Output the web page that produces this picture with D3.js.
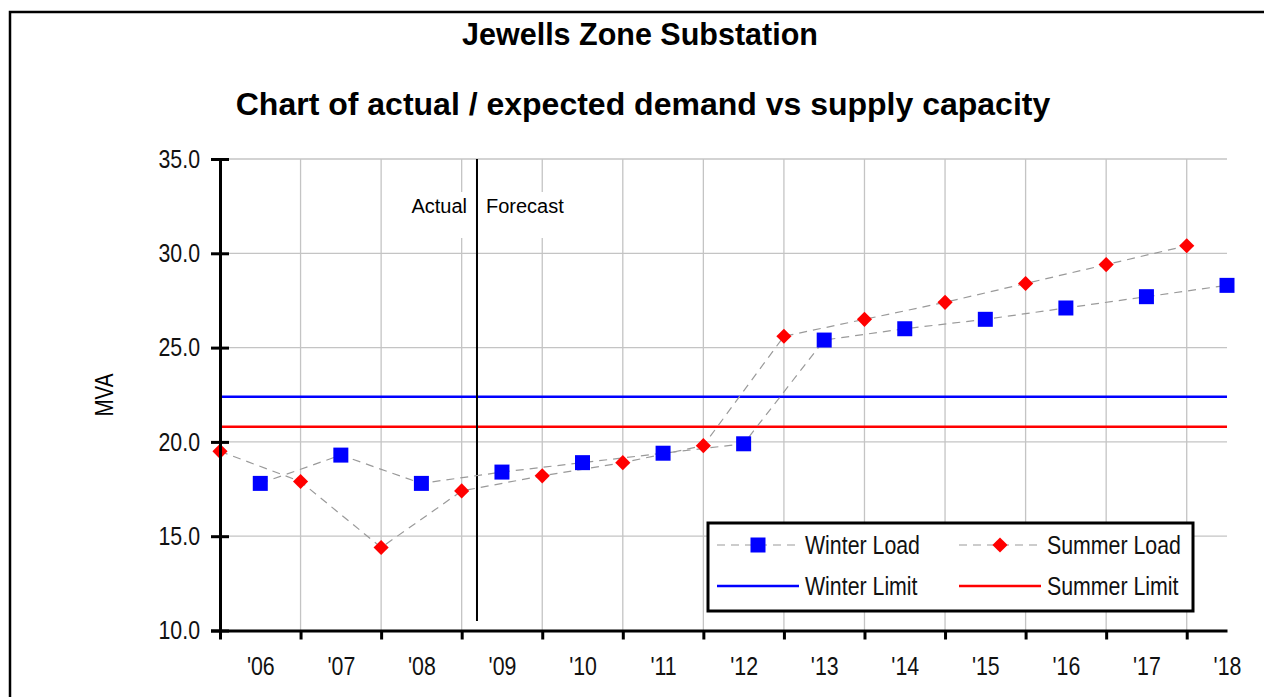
<!DOCTYPE html>
<html>
<head>
<meta charset="utf-8">
<script src="https://cdn.jsdelivr.net/npm/d3@7"></script>
<style>
  body { margin: 0; background: #fff; }
  svg { display: block; }
</style>
</head>
<body>
<div id="chart_area"></div>
<script>
// data
var years = [2006, 2007, 2008, 2009, 2010, 2011, 2012, 2013, 2014, 2015, 2016, 2017, 2018];
var yearLabels = ["'06", "'07", "'08", "'09", "'10", "'11", "'12", "'13", "'14", "'15", "'16", "'17", "'18"];
var winterLoad = [17.8, 19.3, 17.8, 18.4, 18.9, 19.4, 19.9, 25.4, 26.0, 26.5, 27.1, 27.7, 28.3];
var summerLoad = [19.5, 17.9, 14.4, 17.4, 18.2, 18.9, 19.8, 25.6, 26.5, 27.4, 28.4, 29.4, 30.4];
var winterLimit = 22.4;
var summerLimit = 20.8;
var yTicks = [10, 15, 20, 25, 30, 35];
var forecastStart = 2008.69;

var arial = '"Liberation Sans", Arial, sans-serif';

var W = 1264, H = 697;
var plotLeft = 220, plotRight = 1227, plotTop = 159, plotBottom = 630.5;

// squeeze regular text to look like a narrow face
function narrow(sel) {
    sel.style("font-family", arial).each(function () {
        var len = this.getComputedTextLength();
        d3.select(this)
            .attr("textLength", len * 0.82)
            .attr("lengthAdjust", "spacingAndGlyphs");
    });
}

var svg = d3.select("#chart_area")
    .append("svg")
    .attr("width", W)
    .attr("height", H);

// outer frame (runs off the right and bottom edge)
svg.append("rect")
    .attr("x", 10).attr("y", 12)
    .attr("width", 1300).attr("height", 720)
    .attr("fill", "#fff")
    .attr("stroke", "#000")
    .attr("stroke-width", 2.5);

// titles
svg.append("text")
    .attr("x", 640).attr("y", 45)
    .attr("text-anchor", "middle")
    .style("font-family", arial).style("font-weight", "bold").style("font-size", "30.5px")
    .text("Jewells Zone Substation");
svg.append("text")
    .attr("x", 643).attr("y", 115)
    .attr("text-anchor", "middle")
    .style("font-family", arial).style("font-weight", "bold").style("font-size", "32px")
    .text("Chart of actual / expected demand vs supply capacity");

var x = d3.scaleLinear().domain([2005.5, 2018]).range([plotLeft, plotRight]);
var y = d3.scaleLinear().domain([10, 35]).range([plotBottom, plotTop]);

var boundaries = years.map(function (d) { return d - 0.5; });

// gridlines
svg.append("g")
    .selectAll("line")
    .data(yTicks.slice(1))
    .enter().append("line")
    .attr("x1", plotLeft).attr("x2", plotRight)
    .attr("y1", function (d) { return y(d); })
    .attr("y2", function (d) { return y(d); })
    .attr("stroke", "#c4c4c4").attr("stroke-width", 1.3);
svg.append("g")
    .selectAll("line")
    .data(boundaries.slice(1))
    .enter().append("line")
    .attr("x1", function (d) { return x(d); })
    .attr("x2", function (d) { return x(d); })
    .attr("y1", plotTop).attr("y2", plotBottom)
    .attr("stroke", "#c4c4c4").attr("stroke-width", 1.3);

// limit lines
svg.append("line")
    .attr("x1", plotLeft).attr("x2", plotRight)
    .attr("y1", y(winterLimit)).attr("y2", y(winterLimit))
    .attr("stroke", "#0000ff").attr("stroke-width", 2.5);
svg.append("line")
    .attr("x1", plotLeft).attr("x2", plotRight)
    .attr("y1", y(summerLimit)).attr("y2", y(summerLimit))
    .attr("stroke", "#ff0000").attr("stroke-width", 2.5);

// actual / forecast divider
var divX = x(forecastStart);
svg.append("rect")
    .attr("x", divX - 72).attr("y", 192)
    .attr("width", 67).attr("height", 46)
    .attr("fill", "#fff");
svg.append("rect")
    .attr("x", divX + 4).attr("y", 192)
    .attr("width", 90).attr("height", 46)
    .attr("fill", "#fff");
svg.append("line")
    .attr("x1", divX).attr("x2", divX)
    .attr("y1", plotTop).attr("y2", y(10.5))
    .attr("stroke", "#000").attr("stroke-width", 2);
svg.append("text")
    .attr("x", divX - 10).attr("y", 213)
    .attr("text-anchor", "end")
    .style("font-family", arial).style("font-size", "20px")
    .text("Actual");
svg.append("text")
    .attr("x", divX + 9).attr("y", 213)
    .style("font-family", arial).style("font-size", "20px")
    .text("Forecast");

// load series
var winterData = years.map(function (d, i) { return { x: d, v: winterLoad[i] }; });
var summerData = years.map(function (d, i) { return { x: d - 0.5, v: summerLoad[i] }; });

var line = d3.line()
    .x(function (d) { return x(d.x); })
    .y(function (d) { return y(d.v); });

[winterData, summerData].forEach(function (data) {
    svg.append("path")
        .datum(data)
        .attr("d", line)
        .attr("fill", "none")
        .attr("stroke", "#9a9a9a")
        .attr("stroke-width", 1.2)
        .attr("stroke-dasharray", "8,6");
});

var square = d3.symbol().type(d3.symbolSquare).size(225);
var diamond = d3.symbol().type(d3.symbolSquare).size(115);

svg.append("g")
    .selectAll("path")
    .data(winterData)
    .enter().append("path")
    .attr("d", square)
    .attr("transform", function (d) { return "translate(" + x(d.x) + "," + y(d.v) + ")"; })
    .attr("fill", "#0000ff");

svg.append("g")
    .selectAll("path")
    .data(summerData)
    .enter().append("path")
    .attr("d", diamond)
    .attr("transform", function (d) { return "translate(" + x(d.x) + "," + y(d.v) + ")rotate(45)"; })
    .attr("fill", "#ff0000");

// Y axis
var yAxis = svg.append("g")
    .attr("transform", "translate(" + plotLeft + ",0)")
    .call(d3.axisLeft(y).tickValues(yTicks).tickSize(9).tickPadding(11)
        .tickFormat(function (d) { return d3.format(".1f")(d); }));
yAxis.select(".domain").attr("stroke-width", 3);
yAxis.selectAll(".tick line").attr("stroke-width", 3);
yAxis.selectAll(".tick").append("line")
    .attr("x1", 0).attr("x2", 9)
    .attr("stroke", "#000").attr("stroke-width", 3);
yAxis.selectAll("text")
    .style("font-size", "26px").attr("fill", "#111")
    .call(narrow);

// X axis: ticks at year boundaries, labels in between
var xAxis = svg.append("g")
    .attr("transform", "translate(0," + plotBottom + ")")
    .call(d3.axisBottom(x).tickValues(boundaries).tickSize(9).tickSizeOuter(0).tickFormat(""));
xAxis.select(".domain").attr("stroke-width", 3);
xAxis.selectAll(".tick line").attr("stroke-width", 3);

var xLabels = svg.append("g")
    .attr("transform", "translate(0," + plotBottom + ")")
    .call(d3.axisBottom(x).tickValues(years).tickSize(0).tickPadding(26)
        .tickFormat(function (d, i) { return yearLabels[i]; }));
xLabels.select(".domain").remove();
xLabels.selectAll("text")
    .style("font-size", "26px").attr("fill", "#111")
    .call(narrow);

// y axis title
svg.append("text")
    .attr("transform", "translate(113,395)rotate(-90)")
    .attr("text-anchor", "middle")
    .style("font-size", "25px")
    .text("MVA")
    .call(narrow);

// legend
var legend = svg.append("g");
legend.append("rect")
    .attr("x", 708).attr("y", 523)
    .attr("width", 485).attr("height", 88)
    .attr("fill", "#fff")
    .attr("stroke", "#000").attr("stroke-width", 3);

var legendItems = [
    { name: "Winter Load", col: 0, row: 0, color: "#0000ff", kind: "square" },
    { name: "Summer Load", col: 1, row: 0, color: "#ff0000", kind: "diamond" },
    { name: "Winter Limit", col: 0, row: 1, color: "#0000ff", kind: "line" },
    { name: "Summer Limit", col: 1, row: 1, color: "#ff0000", kind: "line" }
];

legendItems.forEach(function (d) {
    var lx = 717 + d.col * 242;
    var ly = 545 + d.row * 41;
    if (d.kind === "line") {
        legend.append("line")
            .attr("x1", lx).attr("x2", lx + 82)
            .attr("y1", ly).attr("y2", ly)
            .attr("stroke", d.color).attr("stroke-width", 2.5);
    } else {
        legend.append("line")
            .attr("x1", lx).attr("x2", lx + 82)
            .attr("y1", ly).attr("y2", ly)
            .attr("stroke", "#9a9a9a").attr("stroke-width", 1.2)
            .attr("stroke-dasharray", "8,6");
        legend.append("path")
            .attr("d", d.kind === "square" ? square : diamond)
            .attr("transform", "translate(" + (lx + 41) + "," + ly + ")" + (d.kind === "diamond" ? "rotate(45)" : ""))
            .attr("fill", d.color);
    }
    legend.append("text")
        .attr("x", lx + 88).attr("y", ly + 9)
        .style("font-size", "26px").attr("fill", "#111")
        .text(d.name)
        .call(narrow);
});
</script>
</body>
</html>
